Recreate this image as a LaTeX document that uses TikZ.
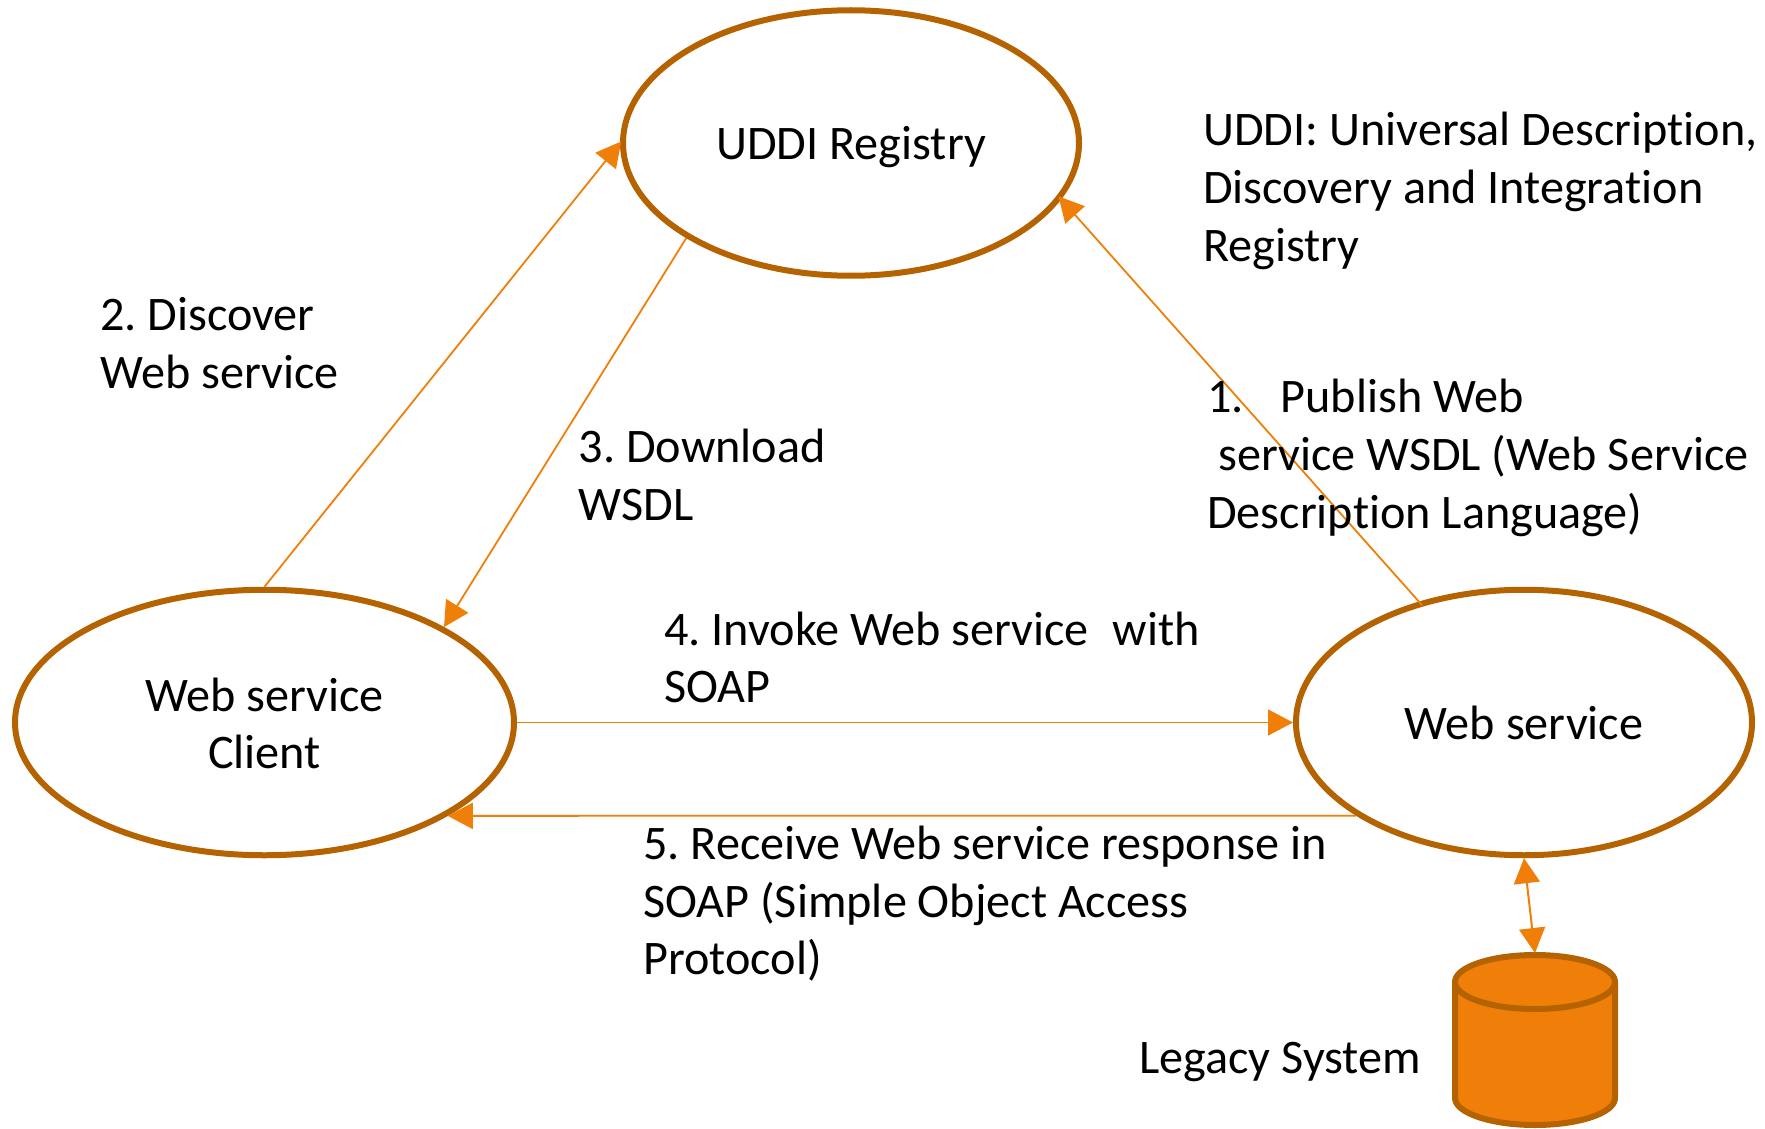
\documentclass[tikz,border=0pt]{standalone}
\usepackage{fontspec}
\setmainfont{Carlito}[Ligatures=NoCommon]
\usetikzlibrary{arrows.meta,shapes.geometric}
\definecolor{edgebrown}{HTML}{B56200}
\definecolor{fillorange}{HTML}{F07F09}
\newcommand{\ovaltext}[1]{\raisebox{-17.5pt}[0pt][0pt]{#1}}
\tikzset{
  oval/.style={ellipse,draw=edgebrown,line width=6pt,inner sep=0pt,minimum height=265.5pt,align=center,font=\frenchspacing\fontsize{48.2}{57.6}\selectfont},
  label/.style={anchor=west,inner sep=0pt,align=left,font=\frenchspacing\fontsize{48.2}{57.6}\selectfont,text=black},
  conn/.style={draw=fillorange,line width=1.8pt,-{Triangle[length=25pt,width=26pt]}},
  connboth/.style={draw=fillorange,line width=2pt,{Triangle[length=25pt,width=26pt]}-{Triangle[length=25pt,width=26pt]}},
  dbbody/.style={draw=edgebrown,fill=fillorange,line width=6pt,line join=round}
}
\begin{document}
\begin{tikzpicture}[x=1pt,y=-1pt]
\useasboundingbox (0,0) rectangle (1765,1129);
\node[oval,minimum width=456pt] (uddi) at (851,143) {\raisebox{-16.5pt}[0pt][0pt]{UDDI Registry}};
\node[oval,minimum width=499pt] (client) at (264.5,722.5) {\ovaltext{Web service}\\\ovaltext{Client}};
\node[oval,minimum width=456pt] (ws) at (1524,722.5) {\raisebox{-16.5pt}[0pt][0pt]{Web service}};
\path[dbbody] (1455,982) -- (1455,1098) arc[start angle=180,end angle=360,x radius=80pt,y radius=27pt]
  -- (1615,982) -- cycle;
\path[dbbody] (1535,982) ellipse[x radius=80pt,y radius=27pt];
\coordinate (legacytop) at (1535,953);
\draw[conn,shorten >=-2pt] (client.north) -- (uddi.west);
\draw[conn] (uddi.210.3) -- (client.28.4);
\draw[conn,shorten <=-5pt,shorten >=-4pt] (ws.131.1) -- (uddi.-15.8);
\draw[conn] (client.east) -- (ws.west);
\draw[conn] (ws.209.5) -- (client.-27.9);
\draw[connboth] (ws.270) -- (legacytop);
\node[label] (note) at (1203,191) {UDDI: Universal Description,\\Discovery and Integration\\Registry};
\node[label] (step1) at (1207,458) {1.\hspace*{26pt} Publish Web\\\hspace*{11pt}service WSDL (Web Service\\Description Language)};
\node[label] (step2) at (100,343) {2. Discover\\Web service};
\node[label] (step3) at (578.5,475) {3. Download\\WSDL};
\node[label] (step4) at (664,657.5) {4. Invoke Web service\ \hspace*{13pt}with\\SOAP};
\node[label] (step5) at (643,904) {5. Receive Web service response in\\SOAP (Simple Object Access\\Protocol)};
\node[label] (legacytext) at (1139,1062) {Legacy System};
\end{tikzpicture}
\end{document}
